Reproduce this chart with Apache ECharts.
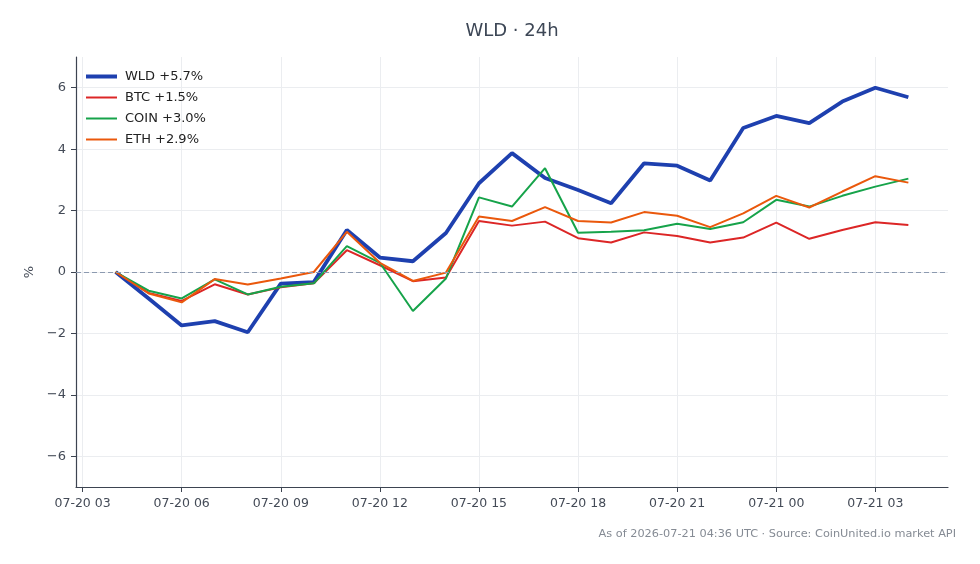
<!DOCTYPE html>
<html>
<head>
<meta charset="utf-8">
<script src="https://cdn.jsdelivr.net/npm/echarts@6/dist/echarts.min.js"></script>
<style>
  html, body { margin: 0; padding: 0; background: #ffffff; }
  #chart { width: 980px; height: 564px; }
</style>
</head>
<body>
<div id="chart"></div>
<script>
// hours since 07-20 00:00
const hours = [4, 5, 6, 7, 8, 9, 10, 11, 12, 13, 14, 15, 16, 17, 18, 19, 20, 21, 22, 23, 24, 25, 26, 27, 28];

const wld = [0, -0.86, -1.74, -1.6, -1.96, -0.38, -0.33, 1.37, 0.47, 0.35, 1.27, 2.89, 3.87, 3.06, 2.67, 2.24, 3.54, 3.46, 2.98, 4.69, 5.08, 4.85, 5.55, 6.0, 5.69];
const btc = [0, -0.68, -0.94, -0.4, -0.73, -0.5, -0.37, 0.71, 0.22, -0.3, -0.18, 1.66, 1.51, 1.64, 1.1, 0.96, 1.29, 1.17, 0.96, 1.12, 1.61, 1.08, 1.37, 1.62, 1.53];
const coin = [0, -0.61, -0.86, -0.24, -0.73, -0.48, -0.37, 0.84, 0.3, -1.27, -0.21, 2.43, 2.13, 3.38, 1.28, 1.31, 1.36, 1.57, 1.4, 1.62, 2.35, 2.13, 2.48, 2.78, 3.04];
const eth = [0, -0.7, -0.99, -0.23, -0.41, -0.21, 0.0, 1.31, 0.3, -0.29, -0.02, 1.81, 1.66, 2.11, 1.66, 1.61, 1.95, 1.83, 1.46, 1.91, 2.48, 2.1, 2.62, 3.12, 2.91];

const xTicks = [3, 6, 9, 12, 15, 18, 21, 24, 27];
const xTickLabels = ['07-20 03', '07-20 06', '07-20 09', '07-20 12', '07-20 15', '07-20 18', '07-20 21', '07-21 00', '07-21 03'];
const yTicks = [-6, -4, -2, 0, 2, 4, 6];

const names = ['WLD +5.7%', 'BTC +1.5%', 'COIN +3.0%', 'ETH +2.9%'];
const colors = ['#1e40af', '#dc2626', '#16a34a', '#ea580c'];

const font = 'DejaVu Sans';
const chart = echarts.init(document.getElementById('chart'));

function pair(vals) {
  return hours.map((h, i) => [h, vals[i]]);
}

function lineSeries(idx, vals, width) {
  return {
    name: names[idx],
    type: 'line',
    data: pair(vals),
    showSymbol: false,
    symbol: 'none',
    animation: false,
    color: colors[idx],
    lineStyle: { width: width, color: colors[idx] },
    emphasis: { disabled: true },
  };
}

const option = {
  animation: false,
  backgroundColor: '#ffffff',
  textStyle: { fontFamily: font },
  grid: { left: 76, right: 32, top: 57, bottom: 77, containLabel: false },
  graphic: [
    {
      type: 'text',
      style: { text: 'WLD · 24h', x: 512, y: 31, textAlign: 'center', textVerticalAlign: 'middle',
        font: '18px "DejaVu Sans"', fill: '#3d4756' },
    },
    {
      type: 'text',
      style: { text: 'As of 2026-07-21 04:36 UTC · Source: CoinUnited.io market API', x: 956, y: 534,
        textAlign: 'right', textVerticalAlign: 'middle', font: '11.3px "DejaVu Sans"', fill: '#858b94' },
    },
  ],
  legend: {
    left: 86,
    top: 70,
    padding: 0,
    orient: 'vertical',
    itemWidth: 31,
    itemHeight: 14,
    itemGap: 8,
    data: names.map((n, i) => ({
      name: n,
      icon: i === 0 ? 'path://M0,0 L31,0 L31,4 L0,4 Z' : 'path://M0,0 L31,0 L31,2 L0,2 Z',
      itemStyle: { color: colors[i], borderWidth: 0 },
    })),
    textStyle: { fontFamily: font, fontSize: 13, color: '#222222', padding: [0, 0, 0, 3] },
    selectedMode: false,
  },
  xAxis: {
    type: 'value',
    min: 2.8,
    max: 29.2,
    axisLine: { show: true, onZero: false, lineStyle: { color: '#3d4451', width: 1.2 } },
    axisTick: { show: true, length: 5, customValues: xTicks, lineStyle: { color: '#3d4451', width: 1 } },
    axisLabel: {
      customValues: xTicks,
      fontFamily: font, fontSize: 12.5, color: '#444b57', margin: 10,
      formatter: (v) => xTickLabels[xTicks.indexOf(v)] || '',
    },
    splitLine: { show: true, lineStyle: { color: '#ebedf0', width: 1 } },
  },
  yAxis: {
    type: 'value',
    min: -7,
    max: 7,
    name: '%',
    nameLocation: 'middle',
    nameGap: 40,
    nameRotate: 90,
    nameTextStyle: { fontFamily: font, fontSize: 13, color: '#444b57' },
    axisLine: { show: true, onZero: false, lineStyle: { color: '#3d4451', width: 1.2 } },
    axisTick: { show: true, length: 5, customValues: yTicks, lineStyle: { color: '#3d4451', width: 1 } },
    axisLabel: {
      customValues: yTicks,
      fontFamily: font, fontSize: 13, color: '#444b57', margin: 10,
      formatter: (v) => String(v).replace('-', '\u2212'),
    },
    splitLine: { show: true, lineStyle: { color: '#ebedf0', width: 1 } },
  },
  series: [
    Object.assign(lineSeries(0, wld, 3.8), {
      markLine: {
        silent: true,
        symbol: 'none',
        label: { show: false },
        lineStyle: { color: '#8c9ab0', type: [5, 3], width: 1 },
        data: [{ yAxis: 0 }],
      },
    }),
    lineSeries(1, btc, 2),
    lineSeries(2, coin, 2),
    lineSeries(3, eth, 2),
  ],
};

chart.setOption(option);
</script>
</body>
</html>
